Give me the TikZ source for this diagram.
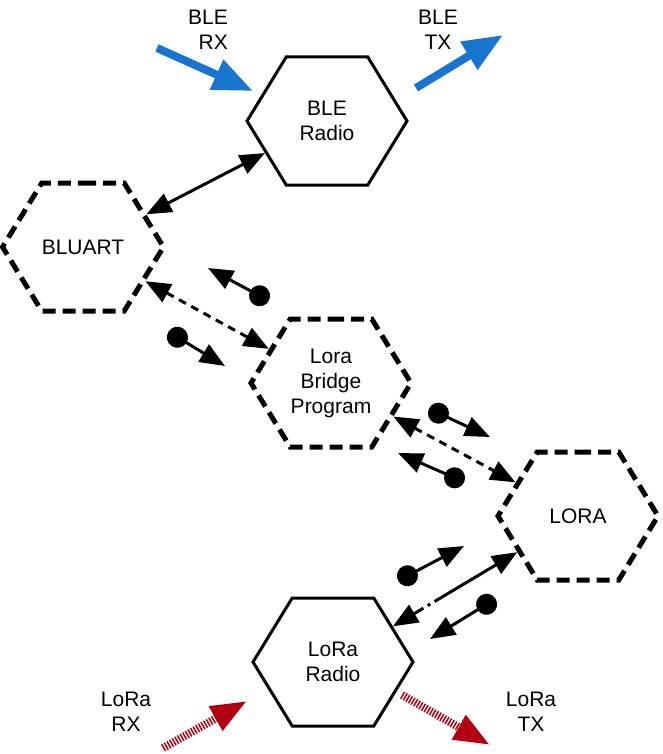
\documentclass[tikz,border=0pt]{standalone}
\usepackage{fontspec}
\setmainfont{Liberation Sans}
\usetikzlibrary{shapes.symbols,arrows.meta}
\definecolor{bleblue}{HTML}{1874CD}
\definecolor{lorared}{HTML}{B00012}

\begin{document}
\begin{tikzpicture}[x=1pt, y=-1pt,
		hex/.style={signal, signal to=east and west, signal pointer angle=117,
			minimum width=160pt, minimum height=128pt, inner sep=0pt, align=center},
		solidhex/.style={hex, draw, line width=3pt},
		dashhex/.style={hex, draw, line width=5pt, dash pattern=on 13pt off 7pt},
		link/.style={line width=3pt, {Triangle[length=25pt,width=20pt]}-{Triangle[length=25pt,width=20pt]}},
		dotlink/.style={link, dash pattern=on 8pt off 6pt},
		dashdotlink/.style={link, dash pattern=on 72pt off 5pt on 3pt off 5pt},
		msg/.style={line width=3pt, shorten <=-10pt, {Circle[length=21pt]}-{Triangle[length=25pt,width=20pt]}},
		bleflow/.style={line width=8pt, bleblue, -{Triangle[length=40pt,width=31pt]}},
		loraflow/.style={line width=8pt, lorared, dash pattern=on 1.5pt off 1.5pt, -{Triangle[length=36pt,width=26pt]}}]
	\tikzstyle{every node}=[font=\fontsize{21}{25}\selectfont]
	\useasboundingbox (0,0) rectangle (663,754);

	% the five blocks
	\node[solidhex] (bleradio) at (327,121) {BLE\\Radio};
	\node[dashhex] (bluart) at (83,247) {BLUART};
	\node[dashhex] (bridge) at (331,383) {Lora\\Bridge\\Program};
	\node[dashhex] (lora) at (578,516) {LORA};
	\node[solidhex] (loraradio) at (333,662) {LoRa\\Radio};

	% links between blocks
	\draw[link] (bluart) -- (bleradio);
	\draw[dotlink] (bluart) -- (bridge);
	\draw[dotlink] (bridge) -- (lora);
	\draw[dashdotlink] (lora) -- (loraradio);

	% messages along the links
	\coordinate (m1) at (260,296); \coordinate (m1t) at (208,268);
	\coordinate (m2) at (177,337); \coordinate (m2t) at (225,366);
	\coordinate (m3) at (438,413); \coordinate (m3t) at (490,437);
	\coordinate (m4) at (455,478); \coordinate (m4t) at (398,453);
	\coordinate (m5) at (407,576); \coordinate (m5t) at (464,546);
	\coordinate (m6) at (487,604); \coordinate (m6t) at (430,639);
	\foreach \m in {m1,m2,m3,m4,m5,m6}
		\draw[msg] (\m) -- (\m t);

	% radio traffic
	\node[align=right] (blerx) at (208,30) {BLE\\RX};
	\node[align=center] (bletx) at (438,30) {BLE\\TX};
	\node[align=center] (lorarx) at (126,712) {LoRa\\RX};
	\node[align=center] (loratx) at (531,712) {LoRa\\TX};
	\coordinate (rxa) at (157,48); \coordinate (rxb) at (253,91);
	\coordinate (txa) at (416,88); \coordinate (txb) at (503,35);
	\coordinate (lrxa) at (163,748); \coordinate (lrxb) at (247,701);
	\coordinate (ltxa) at (402,695); \coordinate (ltxb) at (490,745);
	\draw[bleflow] (rxa) -- (rxb);
	\draw[bleflow] (txa) -- (txb);
	\draw[loraflow] (lrxa) -- (lrxb);
	\draw[loraflow] (ltxa) -- (ltxb);
\end{tikzpicture}
\end{document}
